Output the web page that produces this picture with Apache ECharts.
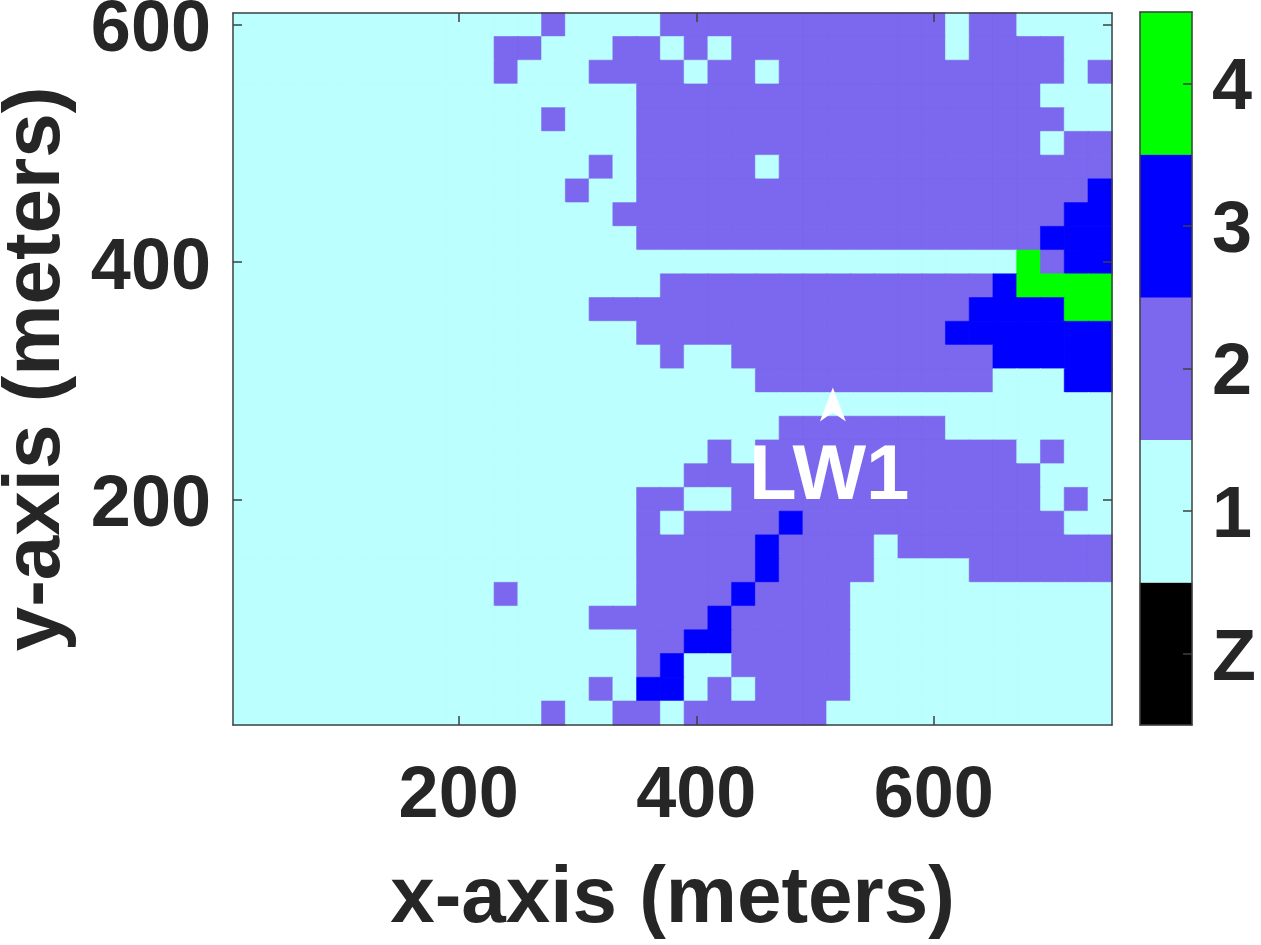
<!DOCTYPE html>
<html>
<head>
<meta charset="utf-8">
<title>LW1</title>
<style>
html, body { margin: 0; padding: 0; background: #fff; }
#main { width: 1261px; height: 945px; }
</style>
<script src="https://cdn.jsdelivr.net/npm/echarts@6/dist/echarts.min.js"></script>
</head>
<body>
<div id="main"></div>
<script>
// cell centres in meters
var xCenters = [];
var yCenters = [];
for (var i = 0; i < 37; i++) { xCenters.push(String(20 + i * 20)); }
for (var j = 0; j < 30; j++) { yCenters.push(String(20 + j * 20)); }

var xTicks = ['200', '400', '600'];
var yTicks = ['200', '400', '600'];
var barLabels = ['Z', '1', '2', '3', '4'];
var barValues = [0, 1, 2, 3, 4];
var barColors = ['#000000', '#bbffff', '#7b68ee', '#0000ff', '#00ff00'];

// one string per row, top row (y = 600) first, x = 20 on the left
var levelRows = [
    '1111111111 1112111122 2222222222 1221111',
    '1111111111 1221112212 1222222222 1222211',
    '1111111111 1211122221 2212222222 2222212',
    '1111111111 1111111222 2222222222 2222111',
    '1111111111 1112111222 2222222222 2222211',
    '1111111111 1111111222 2222222222 2222122',
    '1111111111 1111121222 2212222222 2222222',
    '1111111111 1111211222 2222222222 2222223',
    '1111111111 1111112222 2222222222 2222233',
    '1111111111 1111111222 2222222222 2222333',
    '1111111111 1111111111 1111111111 1114233',
    '1111111111 1111111122 2222222222 2234444',
    '1111111111 1111122222 2222222222 2333344',
    '1111111111 1111111222 2222222222 3333333',
    '1111111111 1111111121 1222222222 2233333',
    '1111111111 1111111111 1122222222 2211133',
    '1111111111 1111111111 1111111111 1111111',
    '1111111111 1111111111 1112222222 1111111',
    '1111111111 1111111111 2122222222 2221211',
    '1111111111 1111111112 2222222222 2222111',
    '1111111111 1111111221 1222222222 2222121',
    '1111111111 1111111212 2223222222 2222211',
    '1111111111 1111111222 2232222122 2222222',
    '1111111111 1111111222 2232222111 1222222',
    '1111111111 1211111222 2322221111 1111111',
    '1111111111 1111122222 3222221111 1111111',
    '1111111111 1111111223 3222221111 1111111',
    '1111111111 1111111231 1222221111 1111111',
    '1111111111 1111121331 2122221111 1111111',
    '1111111111 1112112212 2222211111 1111111'
];

var arrowPoint = [515, 280];
var labelPoint = [512, 219];

// same colour border closes the hairline seams between neighbouring cells
var cellItem = function (c, r, v) {
    return {
        value: [c, r, v],
        itemStyle: { borderColor: barColors[v], borderWidth: 0.6 }
    };
};

var cells = [];
levelRows.forEach(function (row, r) {
    row.replace(/ /g, '').split('').forEach(function (v, c) {
        cells.push(cellItem(c, levelRows.length - 1 - r, Number(v)));
    });
});
var barCells = barValues.map(function (v, k) { return [0, k, v]; });

var fontName = '"Liberation Sans", Arial, sans-serif';
var inkColor = '#262626';
var boxLine = { show: true, onZero: false, lineStyle: { color: '#404040', width: 1.5 } };

var showTick = function (list) {
    return function (index, value) { return list.indexOf(value) >= 0; };
};

var mapAxis = function (kind, cats, list, position, extra) {
    var axis = {
        type: 'category',
        data: cats,
        position: position,
        gridIndex: 0,
        z: 5,
        boundaryGap: true,
        axisLine: boxLine,
        axisTick: {
            show: true, inside: true, alignWithLabel: true, length: 9,
            interval: showTick(list),
            lineStyle: { color: '#404040', width: 1.5 }
        },
        axisLabel: { show: false },
        splitLine: { show: false }
    };
    for (var key in extra) { axis[key] = extra[key]; }
    return axis;
};

var tickLabel = function (list, margin) {
    return {
        show: true,
        interval: showTick(list),
        margin: margin,
        color: inkColor,
        fontFamily: fontName,
        fontWeight: 'bold',
        fontSize: 72
    };
};

// top aligned with a short line box: sits the digits a little below the tick
var yTickLabel = tickLabel(yTicks, 22);
yTickLabel.verticalAlign = 'top';
yTickLabel.lineHeight = 13;

var nameStyle = { color: inkColor, fontFamily: fontName, fontWeight: 'bold', fontSize: 80 };

var myChart = echarts.init(document.getElementById('main'), null, { renderer: 'canvas' });
myChart.setOption({
    backgroundColor: '#ffffff',
    animation: false,
    grid: [
        { left: 233, top: 13, width: 879, height: 712, outerBoundsMode: 'none' },
        { left: 233, top: 13, width: 879, height: 712, outerBoundsMode: 'none' },
        { left: 1140, top: 12, width: 52, height: 713, outerBoundsMode: 'none' }
    ],
    visualMap: {
        show: false,
        type: 'piecewise',
        seriesIndex: [0, 1],
        dimension: 2,
        pieces: barValues.map(function (v, k) { return { value: v, color: barColors[k] }; })
    },
    xAxis: [
        mapAxis('x', xCenters, xTicks, 'bottom', {
            axisLabel: tickLabel(xTicks, 36),
            name: 'x-axis (meters)',
            nameLocation: 'middle',
            nameGap: 135,
            nameTextStyle: nameStyle
        }),
        mapAxis('x', xCenters, xTicks, 'top', {}),
        {
            type: 'value', gridIndex: 1, min: 10, max: 750, show: false
        },
        {
            type: 'category', gridIndex: 2, data: [''], position: 'bottom', z: 5,
            axisLine: boxLine, axisTick: { show: false }, axisLabel: { show: false }
        },
        {
            type: 'category', gridIndex: 2, data: [''], position: 'top', z: 5,
            axisLine: boxLine, axisTick: { show: false }, axisLabel: { show: false }
        }
    ],
    yAxis: [
        mapAxis('y', yCenters, yTicks, 'left', {
            axisLabel: yTickLabel,
            name: 'y-axis (meters)',
            nameLocation: 'middle',
            nameGap: 156,
            nameRotate: 90,
            nameTextStyle: nameStyle
        }),
        mapAxis('y', yCenters, yTicks, 'right', {}),
        {
            type: 'value', gridIndex: 1, min: 10, max: 610, show: false
        },
        {
            type: 'category', gridIndex: 2, data: barLabels, position: 'right', z: 5,
            axisLine: boxLine,
            axisTick: {
                show: true, inside: true, alignWithLabel: true, length: 9,
                lineStyle: { color: '#404040', width: 1.5 }
            },
            axisLabel: {
                show: true, margin: 20, verticalAlign: 'top', lineHeight: 12, color: inkColor,
                fontFamily: fontName, fontWeight: 'bold', fontSize: 72
            }
        },
        {
            type: 'category', gridIndex: 2, data: barLabels, position: 'left', z: 5,
            axisLine: boxLine, axisTick: { show: false }, axisLabel: { show: false }
        }
    ],
    series: [
        {
            name: 'levels',
            type: 'heatmap',
            xAxisIndex: 0,
            yAxisIndex: 0,
            data: cells,
            emphasis: { disabled: true }
        },
        {
            name: 'colorbar',
            type: 'heatmap',
            xAxisIndex: 3,
            yAxisIndex: 3,
            data: barCells,
            itemStyle: { borderWidth: 0 },
            emphasis: { disabled: true }
        },
        {
            name: 'arrow',
            type: 'scatter',
            xAxisIndex: 2,
            yAxisIndex: 2,
            z: 6,
            data: [arrowPoint],
            symbol: 'path://M13 0 L26 34 L13 25 L0 34 Z',
            symbolSize: [26, 34],
            itemStyle: { color: '#ffffff', opacity: 1 },
            silent: true
        },
        {
            name: 'LW1',
            type: 'scatter',
            xAxisIndex: 2,
            yAxisIndex: 2,
            z: 6,
            data: [labelPoint],
            symbolSize: 1,
            itemStyle: { color: 'transparent', opacity: 1 },
            label: {
                show: true,
                position: 'inside',
                formatter: 'LW1',
                color: '#ffffff',
                fontFamily: fontName,
                fontWeight: 'bold',
                fontSize: 78
            },
            silent: true
        }
    ]
});
</script>
</body>
</html>
